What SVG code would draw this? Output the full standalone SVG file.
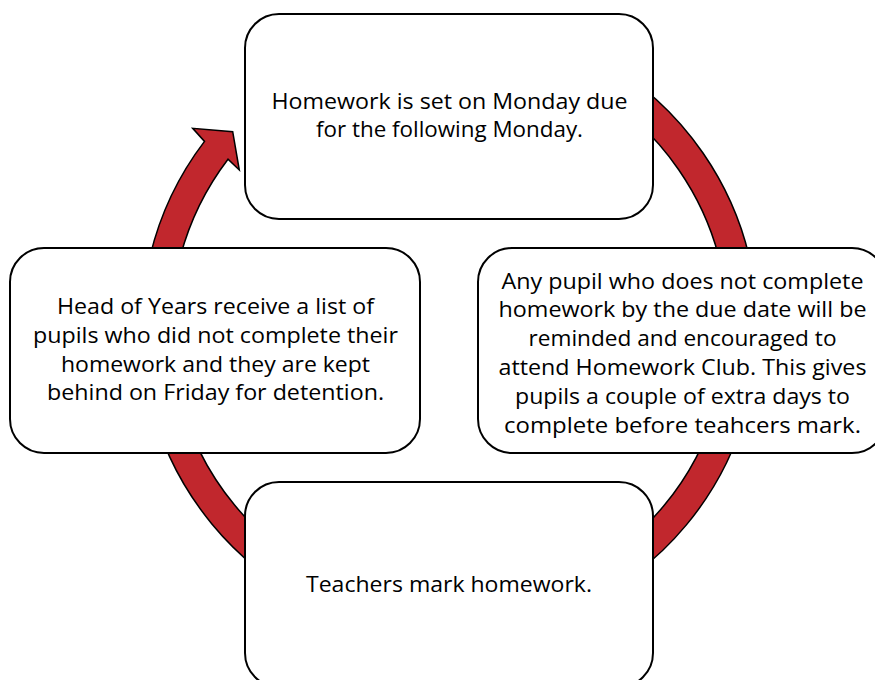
<svg xmlns="http://www.w3.org/2000/svg" width="875" height="680" viewBox="0 0 875 680">
<style>
.box{fill:#fff;stroke:#000;stroke-width:2}
.t{font-family:"Open Sans","Noto Sans","Liberation Sans",sans-serif;font-size:22px;fill:#000;text-anchor:middle}
.ring{fill:#C1272D;stroke:#000;stroke-width:1.5;stroke-linejoin:miter}
</style>
<rect width="875" height="680" fill="#fff"/>
<g id="connectors">
<path class="ring" d="M 476.35 21.17 A 308 308 0 1 1 204.5 141.4 L 192.7 128.3 L 232.7 131.7 L 239.3 170 L 228 159.2 A 278.5 278.5 0 1 0 473.77 50.56 Z"/>
</g>
<g id="node-top">
<rect class="box" x="245" y="14" width="408" height="205" rx="34"/>
<text class="t" x="449.5" y="108.5" textLength="356" lengthAdjust="spacingAndGlyphs">Homework is set on Monday due</text>
<text class="t" x="449.5" y="137.2" textLength="267" lengthAdjust="spacingAndGlyphs">for the following Monday.</text>
</g>
<g id="node-right">
<rect class="box" x="478" y="248" width="408" height="205" rx="34"/>
<text class="t" x="682.5" y="288.5" textLength="362" lengthAdjust="spacingAndGlyphs">Any pupil who does not complete</text>
<text class="t" x="682.5" y="317.3" textLength="368" lengthAdjust="spacingAndGlyphs">homework by the due date will be</text>
<text class="t" x="682.5" y="346.1" textLength="308" lengthAdjust="spacingAndGlyphs">reminded and encouraged to</text>
<text class="t" x="682.5" y="374.9" textLength="368" lengthAdjust="spacingAndGlyphs">attend Homework Club. This gives</text>
<text class="t" x="682.5" y="403.7" textLength="335" lengthAdjust="spacingAndGlyphs">pupils a couple of extra days to</text>
<text class="t" x="682.5" y="432.5" textLength="357" lengthAdjust="spacingAndGlyphs">complete before teahcers mark.</text>
</g>
<g id="node-left">
<rect class="box" x="10" y="248" width="410" height="205" rx="34"/>
<text class="t" x="215.5" y="314" textLength="317" lengthAdjust="spacingAndGlyphs">Head of Years receive a list of</text>
<text class="t" x="215.5" y="342.8" textLength="365" lengthAdjust="spacingAndGlyphs">pupils who did not complete their</text>
<text class="t" x="215.5" y="371.6" textLength="309" lengthAdjust="spacingAndGlyphs">homework and they are kept</text>
<text class="t" x="215.5" y="400.4" textLength="337" lengthAdjust="spacingAndGlyphs">behind on Friday for detention.</text>
</g>
<g id="node-bottom">
<rect class="box" x="245" y="482" width="408" height="205" rx="34"/>
<text class="t" x="449" y="591.7" textLength="286" lengthAdjust="spacingAndGlyphs">Teachers mark homework.</text>
</g>
</svg>
